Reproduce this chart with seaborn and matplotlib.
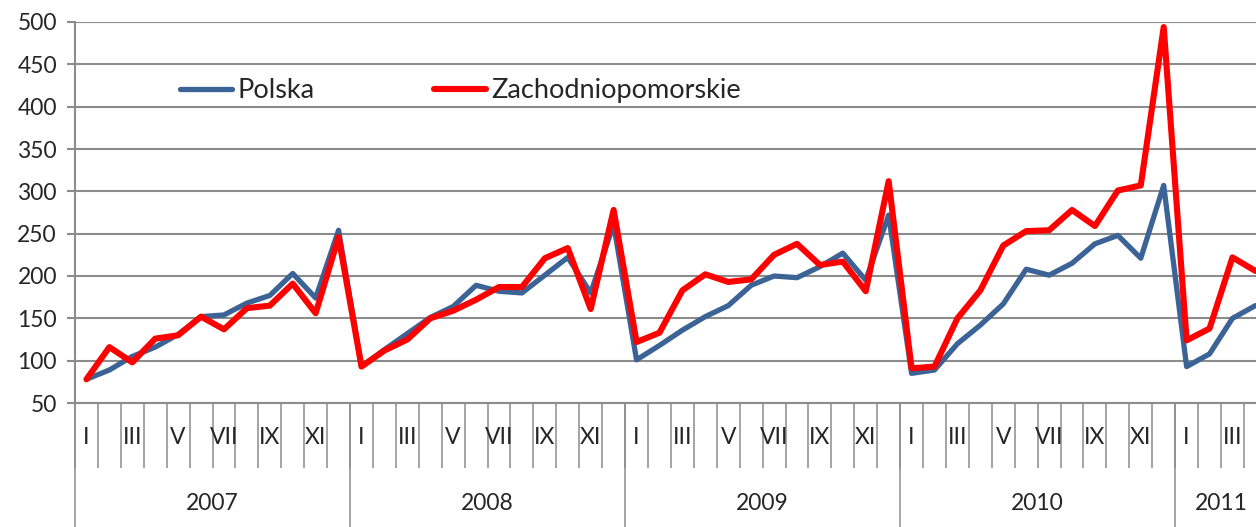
import matplotlib
matplotlib.use("Agg")
import matplotlib.pyplot as plt
import seaborn as sns
import pandas as pd

# monthly values, Jan 2007 .. Apr 2011
polska = [78, 89, 105, 116, 131, 152, 154, 168, 177, 203, 174, 254,
          93, 113, 132, 151, 164, 189, 182, 180, 201, 222, 180, 261,
          101, 118, 136, 152, 165, 189, 200, 198, 211, 227, 195, 272,
          85, 89, 120, 142, 167, 208, 201, 215, 238, 248, 221, 307,
          93, 108, 150, 165]
zachodniopomorskie = [78, 116, 98, 126, 130, 152, 137, 162, 165, 191, 156, 246,
                      93, 112, 125, 150, 159, 172, 187, 187, 221, 233, 161, 278,
                      122, 133, 183, 202, 193, 196, 225, 238, 213, 217, 182, 312,
                      91, 93, 150, 183, 236, 253, 254, 278, 259, 301, 307, 494,
                      124, 138, 222, 206]
months = ['I', 'II', 'III', 'IV', 'V', 'VI', 'VII', 'VIII', 'IX', 'X', 'XI', 'XII']
years = ['2007', '2008', '2009', '2010', '2011']
months_per_year = [12, 12, 12, 12, 4]

n = len(polska)
df = pd.DataFrame({
    'pos': list(range(n)) * 2,
    'value': polska + zachodniopomorskie,
    'series': ['Polska'] * n + ['Zachodniopomorskie'] * n,
})

sns.set_style("white")
plt.rcParams['font.family'] = ['Lato', 'DejaVu Sans']

W, H = 1256, 527
fig = plt.figure(figsize=(W / 100, H / 100), dpi=100)
ax = fig.add_axes([75 / W, 124 / H, (W - 75) / W, 381 / H])

grid_c = '#8c8c8c'
colors = {'Polska': '#3B6396', 'Zachodniopomorskie': '#FF0000'}
widths = {'Polska': 3.8, 'Zachodniopomorskie': 4.4}
for name in ['Polska', 'Zachodniopomorskie']:
    sns.lineplot(data=df[df.series == name], x='pos', y='value', color=colors[name],
                 linewidth=widths[name], label=name, ax=ax,
                 solid_joinstyle='round', solid_capstyle='round')

ax.set_yticks(range(50, 501, 50))
ax.yaxis.grid(True, color=grid_c, linewidth=1.5)
ax.set_axisbelow(True)
ax.set_xlabel('')
ax.set_ylabel('')

for s in ['top', 'right']:
    ax.spines[s].set_visible(False)
for s in ['left', 'bottom']:
    ax.spines[s].set_color(grid_c)
    ax.spines[s].set_linewidth(1.5)

ax.tick_params(axis='y', which='major', length=6, width=1.5, color=grid_c,
               direction='out', labelsize=16.5, pad=7, left=True)

# month separators as minor ticks, labels in text
ax.set_xticks([k - 0.5 for k in range(n)], minor=True)
ax.set_xticks([])
ax.tick_params(axis='x', which='minor', length=47, width=1.1, color=grid_c,
               direction='out', bottom=True)

tr = ax.get_xaxis_transform()
for i in range(n):
    if i % 2 == 0:
        ax.text(i, -34 / 381, months[i % 12], transform=tr, ha='center',
                va='center', fontsize=16.5, clip_on=False)

start = 0
for yr, cnt in zip(years, months_per_year):
    ax.vlines(start - 0.5, -124 / 381, 0, transform=tr, color=grid_c,
              linewidth=1.1, clip_on=False)
    ax.text(start + (cnt - 1) / 2, -100 / 381, yr, transform=tr, ha='center',
            va='center', fontsize=16.5, clip_on=False)
    start += cnt

ax.legend(loc='center left', bbox_to_anchor=(180 / W, 1 - 91 / H),
          bbox_transform=fig.transFigure, ncol=2, frameon=False, fontsize=19.5,
          handlelength=1.93, handletextpad=0.2, columnspacing=4.4,
          borderpad=0, borderaxespad=0)

# limits last, so the tick setters cannot widen them
ax.set_xlim(-0.5, (W - 75) / 22.92 - 0.5)
ax.set_ylim(50, 500)

fig.savefig('out.png', dpi=100)
